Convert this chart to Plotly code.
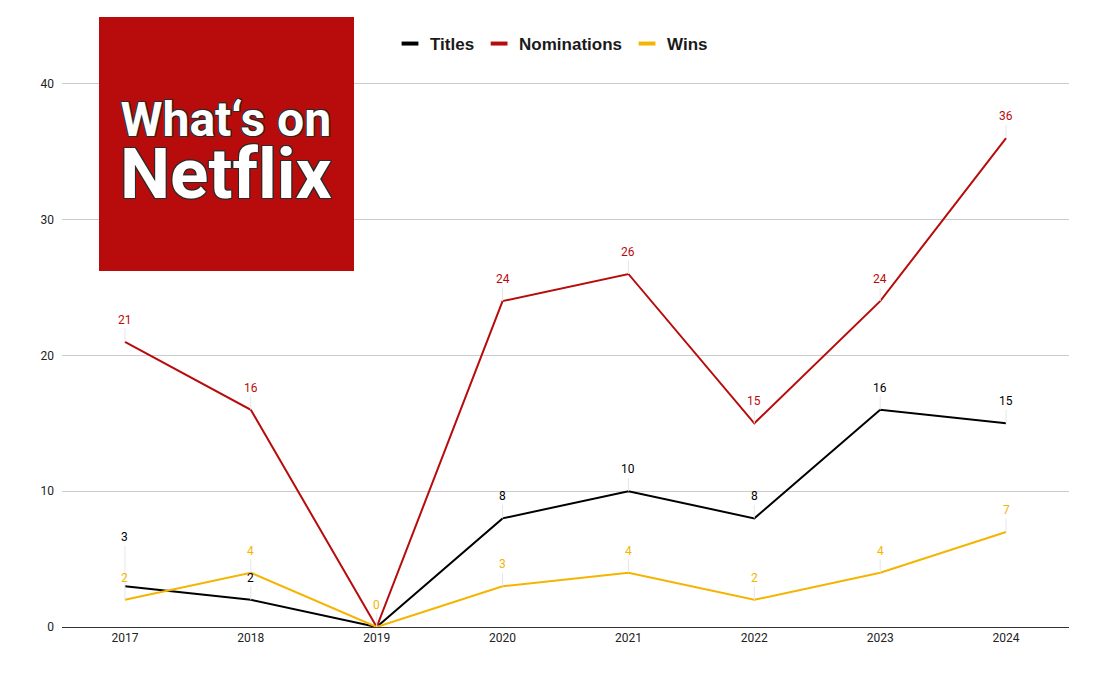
import plotly.graph_objects as go

years = ["2017", "2018", "2019", "2020", "2021", "2022", "2023", "2024"]
titles = [3, 2, 0, 8, 10, 8, 16, 15]
nominations = [21, 16, 0, 24, 26, 15, 24, 36]
wins = [2, 4, 0, 3, 4, 2, 4, 7]

series = [
    ("Titles", titles, "#000000"),
    ("Nominations", nominations, "#B80B0B"),
    ("Wins", wins, "#F4B400"),
]
hidden_labels = {("Titles", "2019"), ("Nominations", "2019")}
label_shift = {("Titles", "2017"): -49}

fig = go.Figure()
for name, vals, col in series:
    fig.add_trace(go.Scatter(x=years, y=vals, mode="lines", name=name,
                             line=dict(color=col, width=2), showlegend=False))
for name, vals, col in series:
    fig.add_trace(go.Scatter(x=[None], y=[None], mode="markers", name=name,
                             marker=dict(symbol="line-ew", size=12,
                                         line=dict(color=col, width=4))))

annotations = []
for name, vals, col in series:
    for i, (yr, v) in enumerate(zip(years, vals)):
        if (name, yr) in hidden_labels:
            continue
        annotations.append(dict(
            x=i, y=v, xref="x", yref="y", text=str(v),
            showarrow=True, ax=0, ay=label_shift.get((name, yr), -22),
            arrowhead=0, arrowwidth=1, arrowcolor="#e6e6e6", standoff=0,
            font=dict(family="Roboto", size=12, color=col)))

outline = ("-1px -1px 0 #2a2a2a, 1px -1px 0 #2a2a2a, -1px 1px 0 #2a2a2a, "
           "1px 1px 0 #2a2a2a, 0 -1px 0 #2a2a2a, 0 1px 0 #2a2a2a, "
           "-1px 0 0 #2a2a2a, 1px 0 0 #2a2a2a")
annotations.append(dict(x=(226 - 62) / 1007, y=(627 - 153) / 611,
                        xref="paper", yref="paper", xanchor="center",
                        yanchor="middle",
                        text=("<b>What‘s on</b><br>"
                              "<b><span style='font-size:71px'>Net\u200cf\u200clix</span></b>"),
                        showarrow=False,
                        font=dict(family="Roboto", size=48, color="white",
                                  shadow=outline)))

fig.update_layout(
    width=1103, height=682,
    margin=dict(l=62, r=34, t=16, b=55, autoexpand=False),
    paper_bgcolor="white", plot_bgcolor="white",
    font=dict(family="Roboto", size=12, color="#222222"),
    showlegend=True,
    legend=dict(orientation="h", xref="container", x=0.5, xanchor="center",
                yref="container", y=1 - 44 / 682, yanchor="middle",
                font=dict(family="Liberation Sans", size=17, color="#1a1a1a",
                          weight="bold"),
                itemwidth=30, bgcolor="rgba(0,0,0,0)"),
    xaxis=dict(type="category", range=[-0.5, 7.5], showgrid=False,
               showline=True, linecolor="#333333", linewidth=1,
               ticks="", tickfont=dict(family="Roboto", size=12, color="#222")),
    yaxis=dict(range=[0, 45], tickvals=[0, 10, 20, 30, 40], showgrid=True,
               gridcolor="#cccccc", gridwidth=1, zeroline=False,
               ticks="", ticklabelstandoff=7,
               tickfont=dict(family="Roboto", size=12, color="#222")),
    shapes=[dict(type="rect", xref="paper", yref="paper",
                 x0=(99 - 62) / 1007, x1=(354 - 62) / 1007,
                 y0=(627 - 271) / 611, y1=(627 - 17) / 611,
                 fillcolor="#B80B0B", line=dict(width=0), layer="above")],
    annotations=annotations,
)

fig.write_html("out.html")
